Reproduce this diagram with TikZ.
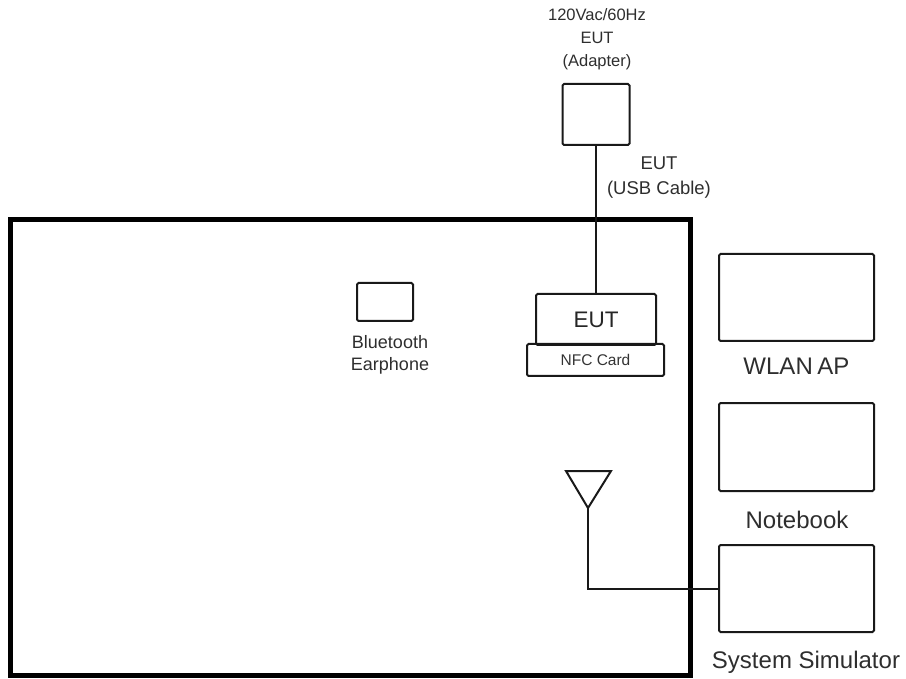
\documentclass[tikz,border=0pt]{standalone}
\usepackage{fontspec}
\setmainfont{Liberation Sans}
\begin{document}
\begin{tikzpicture}[x=1pt,y=-1pt,
  dev/.style={draw=black!90,line width=2pt,rounded corners=1.5pt,inner sep=0pt},
  lbl/.style={text=black!82,inner sep=0pt,align=center},
  wire/.style={draw=black!90,line width=2pt}]
\useasboundingbox (0,0) rectangle (906,679);
% chamber
\node[draw=black,line width=5pt,minimum width=680pt,minimum height=455pt,inner sep=0pt] (room) at (350,447.5) {};
% adapter
\node[dev,minimum width=67pt,minimum height=61pt] (adapter) at (596,114.5) {};
\node[lbl,font=\fontsize{16.5}{23}\selectfont] (adlbl) at (597,39) {120Vac/60Hz\\EUT\\(Adapter)};
% EUT and NFC
\node[dev,minimum width=120pt,minimum height=51pt,font=\fontsize{22.5}{26}\selectfont,text=black!85] (eut) at (596,319.5) {EUT};
\node[dev,minimum width=137pt,minimum height=32pt,font=\fontsize{15.5}{18}\selectfont,text=black!80] (nfc) at (595.5,360) {NFC Card};
\draw[wire] (adapter.south) -- (eut.north);
\node[lbl,font=\fontsize{18.5}{25}\selectfont] (usblbl) at (659,177.5) {EUT\\(USB Cable)};
% bluetooth
\node[dev,minimum width=56pt,minimum height=38pt] (bt) at (385,302) {};
\node[lbl,font=\fontsize{18}{22}\selectfont] (btlbl) at (390,355) {Bluetooth\\Earphone};
% right devices
\node[dev,minimum width=155pt,minimum height=87pt] (wlan) at (796.5,297.5) {};
\node[lbl,font=\fontsize{24}{28}\selectfont] (wlanlbl) at (796.5,366) {WLAN\kern-2pt\ AP};
\node[dev,minimum width=155pt,minimum height=88pt] (nb) at (796.5,447) {};
\node[lbl,font=\fontsize{24}{28}\selectfont] (nblbl) at (797,520) {Notebook};
\node[dev,minimum width=155pt,minimum height=87pt] (sim) at (796.5,588.5) {};
\node[lbl,font=\fontsize{24}{28}\selectfont] (simlbl) at (806,662) {System Simulator};
% antenna
\coordinate (ant) at (588,508);
\draw[wire,line join=miter] (566,471) -- (611,471) -- (ant) -- cycle;
\draw[wire] (ant) |- (sim.west);
\end{tikzpicture}
\end{document}
